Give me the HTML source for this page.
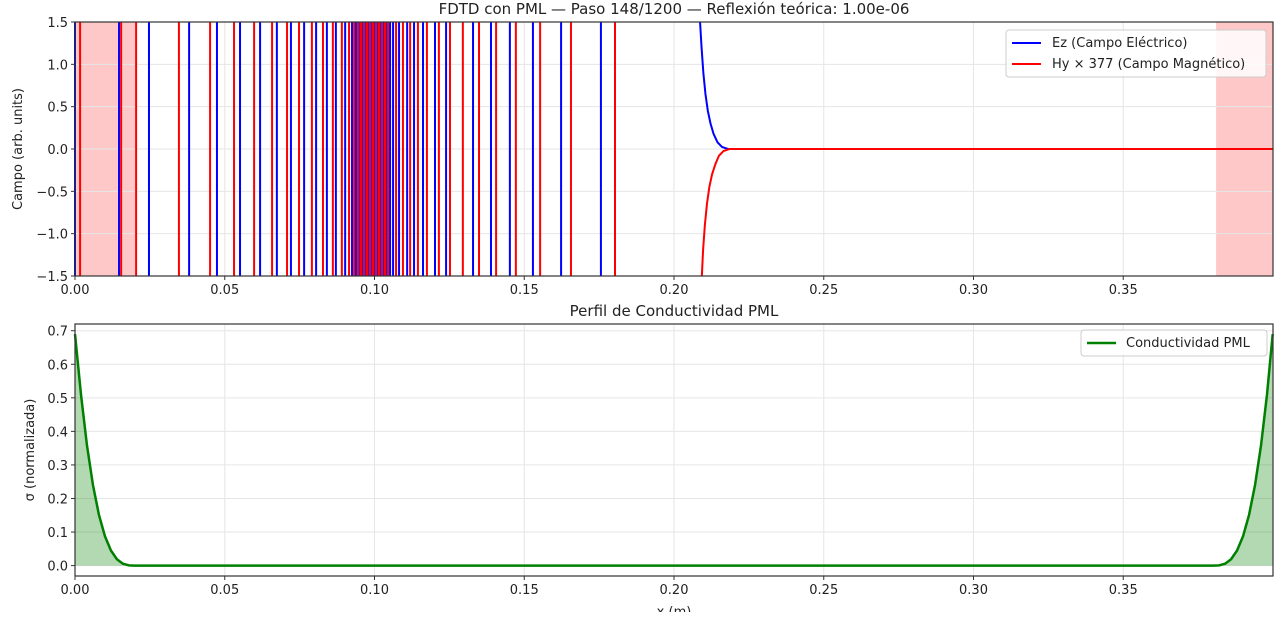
<!DOCTYPE html>
<html><head><meta charset="utf-8"><style>
body{margin:0;background:#fff;width:1280px;height:612px;overflow:hidden}
svg text{font-family:"DejaVu Sans","Liberation Sans",sans-serif;fill:#222}
</style></head><body>
<svg id="c" width="1280" height="612" xmlns="http://www.w3.org/2000/svg"></svg>
<script>
// ---- data ----
const ezSpikes=[0.000,0.0147,0.0247,0.0381,0.0474,0.0551,0.0618,0.0674,0.0721,0.0765,0.0805,0.0841,0.0871,0.0902,0.0925,0.0938,0.0952,0.0962,0.0972,0.0982,0.0992,0.1002,0.1012,0.1022,0.1032,0.1042,0.1052,0.1062,0.1082,0.1109,0.1132,0.1162,0.1202,0.1239,0.1329,0.1389,0.1452,0.1529,0.1623,0.1756];
const hySpikes=[0.0017,0.0154,0.0204,0.0347,0.0451,0.0531,0.0598,0.0658,0.0708,0.0748,0.0791,0.0828,0.0861,0.0891,0.0915,0.0932,0.0945,0.0955,0.0965,0.0975,0.0985,0.0995,0.1005,0.1015,0.1025,0.1035,0.1045,0.1072,0.1095,0.1119,0.1145,0.1175,0.1215,0.1252,0.1295,0.1349,0.1406,0.1472,0.1553,0.1656,0.1803];
const ezFrontX=[0.2087,0.2092,0.2098,0.2105,0.2113,0.2122,0.2132,0.2145,0.2160,0.2180,0.40];
const ezFrontY=[1.5,1.2,0.9,0.65,0.45,0.3,0.18,0.08,0.025,0,0];
const hyFrontX=[0.2093,0.2097,0.2103,0.2110,0.2118,0.2127,0.2138,0.2150,0.2165,0.2185,0.40];
const hyFrontY=[-1.5,-1.2,-0.9,-0.65,-0.45,-0.3,-0.18,-0.08,-0.025,0,0];
const sigX=[0,0.002,0.004,0.006,0.008,0.010,0.012,0.014,0.016,0.018,0.020,0.380,0.382,0.384,0.386,0.388,0.390,0.392,0.394,0.396,0.398,0.3999];
const sigY=[0.69,0.51,0.358,0.24,0.151,0.0875,0.045,0.019,0.0056,0.0007,0,0,0.0007,0.0056,0.019,0.045,0.0875,0.151,0.24,0.358,0.51,0.69];
const xTicks=[0,0.05,0.10,0.15,0.20,0.25,0.30,0.35];
const xTickLabels=["0.00","0.05","0.10","0.15","0.20","0.25","0.30","0.35"];
const topYTicks=[-1.5,-1.0,-0.5,0.0,0.5,1.0,1.5];
const topYLabels=["\u22121.5","\u22121.0","\u22120.5","0.0","0.5","1.0","1.5"];
const botYTicks=[0,0.1,0.2,0.3,0.4,0.5,0.6,0.7];
const botYLabels=["0.0","0.1","0.2","0.3","0.4","0.5","0.6","0.7"];
const pmlRegions=[[0,0.02],[0.381,0.4]];

const NS="http://www.w3.org/2000/svg";
const svg=document.getElementById('c');
function el(t,a,p){const e=document.createElementNS(NS,t);for(const k in a)e.setAttribute(k,a[k]);(p||svg).appendChild(e);return e;}
const L=75,R=1273;
const X=v=>L+v/0.4*(R-L);
const T={top:22,bot:276,min:-1.5,max:1.5};
const B={top:324,bot:576,min:-0.031,max:0.72};
const Yt=v=>T.bot-(v-T.min)/(T.max-T.min)*(T.bot-T.top);
const Yb=v=>B.bot-(v-B.min)/(B.max-B.min)*(B.bot-B.top);

// ---- top panel ----
const gT=el('g',{});
pmlRegions.forEach(r=>{const e=el('rect',{x:X(r[0]),y:T.top,width:X(r[1])-X(r[0]),height:T.bot-T.top,fill:'#ffc8c8'},gT);});
xTicks.forEach(v=>el('line',{x1:X(v),x2:X(v),y1:T.top,y2:T.bot,stroke:'#e6e6e6'},gT));
topYTicks.forEach(v=>el('line',{x1:L,x2:R,y1:Yt(v),y2:Yt(v),stroke:'#e6e6e6'},gT));
ezSpikes.forEach(v=>{const e=el('line',{x1:X(v),x2:X(v),y1:T.top,y2:T.bot,stroke:'#0000ff','stroke-width':2},gT);});
hySpikes.forEach(v=>{const e=el('line',{x1:X(v),x2:X(v),y1:T.top,y2:T.bot,stroke:'#ff0000','stroke-width':2},gT);});
let d=ezFrontX.map((x,i)=>(i?'L':'M')+X(x)+','+Yt(ezFrontY[i])).join('');
let p=el('path',{d:d,fill:'none',stroke:'#0000ff','stroke-width':2},gT);
d=hyFrontX.map((x,i)=>(i?'L':'M')+X(x)+','+Yt(hyFrontY[i])).join('');
p=el('path',{d:d,fill:'none',stroke:'#ff0000','stroke-width':2},gT);
el('rect',{x:L,y:T.top,width:R-L,height:T.bot-T.top,fill:'none',stroke:'#333','stroke-width':1.2},gT);
xTicks.forEach((v,i)=>{el('line',{x1:X(v),x2:X(v),y1:T.bot,y2:T.bot+4,stroke:'#333'},gT);const t=el('text',{x:X(v),y:T.bot+18,'text-anchor':'middle','font-size':13},gT);t.textContent=xTickLabels[i];});
topYTicks.forEach((v,i)=>{el('line',{x1:L-4,x2:L,y1:Yt(v),y2:Yt(v),stroke:'#333'},gT);const t=el('text',{x:L-7,y:Yt(v)+5,'text-anchor':'end','font-size':13},gT);t.textContent=topYLabels[i];});
let t=el('text',{x:674,y:14,'text-anchor':'middle','font-size':15},gT);t.textContent='FDTD con PML — Paso 148/1200 — Reflexión teórica: 1.00e-06';
t=el('text',{x:22,y:149,'text-anchor':'middle','font-size':13,transform:'rotate(-90 22 149)'},gT);t.textContent='Campo (arb. units)';
const lg=el('g',{},gT);
el('rect',{x:1006,y:30,width:260,height:47,rx:3,fill:'#fff','fill-opacity':0.85,stroke:'#ccc'},lg);
el('line',{x1:1012,x2:1041,y1:43,y2:43,stroke:'#0000ff','stroke-width':2},lg);
el('line',{x1:1012,x2:1041,y1:64,y2:64,stroke:'#ff0000','stroke-width':2},lg);
t=el('text',{x:1052,y:47,'font-size':13},lg);t.textContent='Ez (Campo Eléctrico)';
t=el('text',{x:1052,y:68,'font-size':13},lg);t.textContent='Hy × 377 (Campo Magnético)';

// ---- bottom panel ----
const gB=el('g',{});
xTicks.forEach(v=>el('line',{x1:X(v),x2:X(v),y1:B.top,y2:B.bot,stroke:'#e6e6e6'},gB));
botYTicks.forEach(v=>el('line',{x1:L,x2:R,y1:Yb(v),y2:Yb(v),stroke:'#e6e6e6'},gB));
d=sigX.map((x,i)=>(i?'L':'M')+X(x)+','+Yb(sigY[i])).join('');
p=el('path',{d:d+'L'+X(sigX[sigX.length-1])+','+Yb(0)+'L'+X(0)+','+Yb(0)+'Z',fill:'#008000','fill-opacity':0.3},gB);
p=el('path',{d:d,fill:'none',stroke:'#008000','stroke-width':2.5},gB);
el('rect',{x:L,y:B.top,width:R-L,height:B.bot-B.top,fill:'none',stroke:'#333','stroke-width':1.2},gB);
xTicks.forEach((v,i)=>{el('line',{x1:X(v),x2:X(v),y1:B.bot,y2:B.bot+4,stroke:'#333'},gB);const t=el('text',{x:X(v),y:B.bot+18,'text-anchor':'middle','font-size':13},gB);t.textContent=xTickLabels[i];});
botYTicks.forEach((v,i)=>{el('line',{x1:L-4,x2:L,y1:Yb(v),y2:Yb(v),stroke:'#333'},gB);const t=el('text',{x:L-7,y:Yb(v)+5,'text-anchor':'end','font-size':13},gB);t.textContent=botYLabels[i];});
t=el('text',{x:674,y:316,'text-anchor':'middle','font-size':15},gB);t.textContent='Perfil de Conductividad PML';
t=el('text',{x:34,y:450,'text-anchor':'middle','font-size':13,transform:'rotate(-90 34 450)'},gB);t.textContent='σ (normalizada)';
t=el('text',{x:674,y:616,'text-anchor':'middle','font-size':13},gB);t.textContent='x (m)';
const lb=el('g',{},gB);
el('rect',{x:1081,y:330,width:186,height:26,rx:3,fill:'#fff','fill-opacity':0.85,stroke:'#ccc'},lb);
el('line',{x1:1087,x2:1116,y1:343,y2:343,stroke:'#008000','stroke-width':2.5},lb);
t=el('text',{x:1126,y:347,'font-size':13},lb);t.textContent='Conductividad PML';
</script>
</body></html>
